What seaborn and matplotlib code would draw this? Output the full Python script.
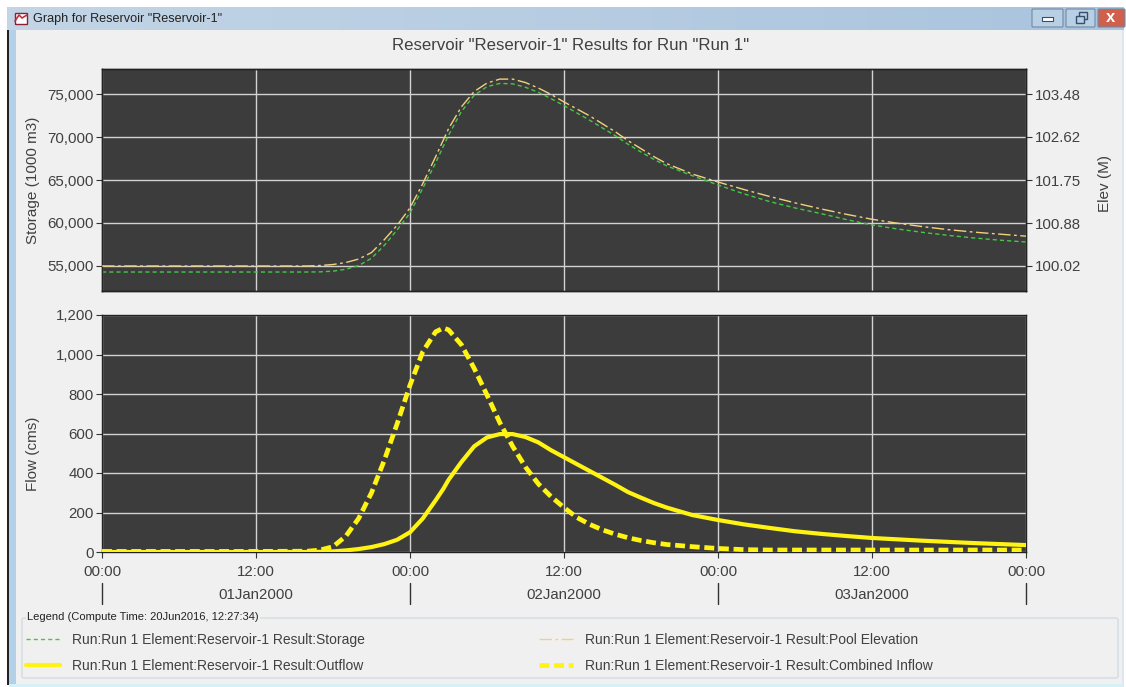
import numpy as np
import pandas as pd
import seaborn as sns
import matplotlib
matplotlib.use("Agg")
import matplotlib.pyplot as plt
import matplotlib.dates as mdates
from matplotlib.patches import Rectangle, FancyBboxPatch, Polygon
from matplotlib.ticker import FixedLocator, FuncFormatter

# values
level_hours = [0, 4, 8, 12, 16, 17, 18, 19, 20, 21, 22, 23, 24, 25, 26, 27, 28, 29, 30, 31, 32, 33, 34, 35, 36, 37,
               38, 39, 40, 41, 42, 43, 44, 46, 48, 50, 52, 54, 56, 58, 60, 62, 64, 66, 68, 70, 72]
storage = [54300, 54300, 54300, 54300, 54300, 54320, 54400, 54620, 55050, 55900, 57400, 59200, 61160, 64050, 67000,
           70200, 72950, 74850, 75850, 76230, 76180, 75780, 75200, 74450, 73650, 72800, 71950, 71050, 70150, 69150,
           68250, 67400, 66650, 65500, 64420, 63400, 62500, 61750, 61100, 60400, 59770, 59300, 58900, 58550, 58250,
           58000, 57790]
pool_elev = [100.02, 100.02, 100.02, 100.02, 100.02, 100.03, 100.05, 100.09, 100.16, 100.29, 100.55, 100.84, 101.19,
             101.68, 102.22, 102.78, 103.22, 103.53, 103.70, 103.78, 103.78, 103.71, 103.60, 103.47, 103.32, 103.18,
             103.04, 102.88, 102.72, 102.54, 102.38, 102.22, 102.08, 101.87, 101.71, 101.56, 101.42, 101.29, 101.17,
             101.06, 100.96, 100.88, 100.81, 100.75, 100.70, 100.66, 100.62]

flow_hours = [0, 4, 8, 12, 16, 17, 18, 19, 20, 21, 22, 23, 24, 25, 26, 26.6, 27, 28, 29, 30, 31, 32, 33, 34, 35, 36,
              37, 38, 39, 40, 41, 42, 43, 44, 46, 48, 50, 52, 54, 56, 58, 60, 62, 64, 66, 68, 70, 72]
inflow = [3, 3, 3, 3, 4, 10, 27, 80, 170, 300, 465, 650, 845, 1015, 1115, 1134, 1125, 1050, 930, 795, 655, 535, 430,
          345, 280, 225, 175, 140, 112, 90, 72, 58, 47, 38, 27, 18, 12, 10, 10, 10, 10, 10, 10, 10, 10, 10, 10, 10]
outflow = [0, 0, 0, 0, 0, 1, 3, 8, 15, 25, 40, 62, 100, 170, 262, 320, 365, 455, 535, 580, 597, 597, 582, 555, 515,
           480, 445, 410, 375, 340, 303, 275, 248, 225, 187, 162, 140, 122, 105, 92, 81, 71, 64, 57, 51, 45, 40, 35]

storage_ticks = [55000, 60000, 65000, 70000, 75000]
elev_ticks = [100.02, 100.88, 101.75, 102.62, 103.48]
flow_ticks = [0, 200, 400, 600, 800, 1000, 1200]
day_labels = ["01Jan2000", "02Jan2000", "03Jan2000"]

legend_storage = "Run:Run 1 Element:Reservoir-1 Result:Storage"
legend_pool = "Run:Run 1 Element:Reservoir-1 Result:Pool Elevation"
legend_outflow = "Run:Run 1 Element:Reservoir-1 Result:Outflow"
legend_inflow = "Run:Run 1 Element:Reservoir-1 Result:Combined Inflow"

start = pd.Timestamp("2000-01-01")


def to_dates(hours):
    return start + pd.to_timedelta(hours, unit="h")


sns.set_theme(style="dark")
plt.rcParams["font.family"] = ["Liberation Sans", "DejaVu Sans"]

W, H = 1126, 687
BG = "#f0f0f0"
PANEL = "#3c3c3c"
GRID = "#d2d2d2"
TEXT = "#404040"
YELLOW = "#fff314"

fig = plt.figure(figsize=(W / 100, H / 100), dpi=100, facecolor="white")

# window chrome, in pixel coordinates
chrome = fig.add_axes([0, 0, 1, 1], zorder=-1)
chrome.set_xlim(0, W)
chrome.set_ylim(H, 0)
chrome.axis("off")
chrome.add_patch(Rectangle((7, 30), 1117, 655, color=BG, lw=0))
chrome.add_patch(Rectangle((7, 30), 2, 655, color="#222222", lw=0))
chrome.add_patch(Rectangle((9, 30), 7, 655, color="#b4cfe8", lw=0))
chrome.add_patch(Rectangle((9, 684), 1115, 3, color="#d5f1f7", lw=0))
chrome.add_patch(Rectangle((1122, 30), 2, 655, color="#dbe8f2", lw=0))
bar = np.linspace(0, 1, 256).reshape(1, -1)
bar_cmap = matplotlib.colors.LinearSegmentedColormap.from_list("bar", ["#c3d5e6", "#a9c4de"])
chrome.imshow(bar, extent=(7, 1124, 30, 7), cmap=bar_cmap, aspect="auto", zorder=1)
chrome.set_xlim(0, W)
chrome.set_ylim(H, 0)
chrome.add_patch(Polygon([(15, 13), (27, 13), (27, 24), (15, 24)], closed=True, fc="white", ec="#8a2030", lw=1, zorder=2))
chrome.plot([15, 19, 22, 27], [21, 15, 18, 15], color="#c03040", lw=1.2, zorder=3)
chrome.text(33, 19, 'Graph for Reservoir "Reservoir-1"', fontsize=9.1, color="#222222", va="center", zorder=3)
for x0, x1, col in [(1032, 1063, "#b9cfe4"), (1066, 1095, "#b9cfe4"), (1098, 1125, "#d0604c")]:
    chrome.add_patch(FancyBboxPatch((x0 + 1, 10), x1 - x0 - 2, 16, boxstyle="round,pad=1", fc=col, ec="#6f8ba6", lw=0.8, zorder=2))
chrome.add_patch(Rectangle((1042, 17), 11, 4, fc="white", ec="#34506c", lw=0.8, zorder=3))
chrome.add_patch(Rectangle((1079, 12), 8, 7, fc="none", ec="#34506c", lw=1, zorder=3))
chrome.add_patch(Rectangle((1076, 16), 8, 7, fc="#b9cfe4", ec="#34506c", lw=1, zorder=3))
chrome.text(1111, 18, "x", fontsize=12, weight="bold", color="white", ha="center", va="center", zorder=3)
chrome.text(571, 46, 'Reservoir "Reservoir-1" Results for Run "Run 1"', fontsize=12.1, color=TEXT, ha="center", va="center")


def panel_axes(left, top, right, bottom):
    return fig.add_axes([left / W, 1 - bottom / H, (right - left) / W, (bottom - top) / H])


ax_top = panel_axes(102, 69, 1026, 291)
ax_flow = panel_axes(102, 315, 1026, 552)
x_min, x_max = start, start + pd.Timedelta(hours=72)

# top panel
level_df = pd.DataFrame({"time": to_dates(level_hours), "storage": storage, "pool": pool_elev})
sns.lineplot(data=level_df, x="time", y="storage", ax=ax_top, color="#46c846", linewidth=1.0,
             linestyle=(0, (3, 2.2)), zorder=4)
ax_elev = ax_top.twinx()
sns.lineplot(data=level_df, x="time", y="pool", ax=ax_elev, color="#efd27c", linewidth=1.0,
             linestyle=(0, (9, 2.5, 2, 2.5)), zorder=4)
ax_top.set_ylim(52093, 77907)
ax_elev.set_ylim(99.517, 103.983)

# bottom panel
flow_df = pd.DataFrame({"time": to_dates(flow_hours), "inflow": inflow, "outflow": outflow})
sns.lineplot(data=flow_df, x="time", y="outflow", ax=ax_flow, color=YELLOW, linewidth=3.0, zorder=4)
sns.lineplot(data=flow_df, x="time", y="inflow", ax=ax_flow, color=YELLOW, linewidth=3.4,
             linestyle=(0, (2.1, 1.0)), zorder=5)
ax_flow.set_ylim(0, 1200)

for ax in (ax_top, ax_flow, ax_elev):
    ax.set_xlim(x_min, x_max)
    ax.xaxis.set_major_locator(mdates.HourLocator(byhour=[0, 12]))
    ax.xaxis.set_major_formatter(mdates.DateFormatter("%H:%M"))
    ax.set_xlabel("")
    for s in ax.spines.values():
        s.set_color("#222222")
        s.set_linewidth(1.0)
        s.set_visible(True)

for ax in (ax_top, ax_flow):
    ax.set_facecolor(PANEL)
    ax.grid(True, color=GRID, linewidth=1.0)
    ax.set_axisbelow(True)
    ax.yaxis.set_major_formatter(FuncFormatter(lambda v, _: f"{v:,.0f}"))
    ax.tick_params(axis="y", left=True, length=4.5, width=0.8, color="#333333", labelsize=10.8, labelcolor=TEXT, pad=1.5)

ax_top.yaxis.set_major_locator(FixedLocator(storage_ticks))
ax_flow.yaxis.set_major_locator(FixedLocator(flow_ticks))
ax_elev.yaxis.set_major_locator(FixedLocator(elev_ticks))
ax_elev.yaxis.set_major_formatter(FuncFormatter(lambda v, _: f"{v:.2f}"))
ax_elev.grid(False)
ax_elev.tick_params(axis="y", right=True, length=4.5, width=0.8, color="#333333", labelsize=10.8, labelcolor=TEXT, pad=2)
ax_top.tick_params(axis="x", bottom=False, labelbottom=False)
ax_elev.tick_params(axis="x", bottom=False, labelbottom=False)
ax_flow.tick_params(axis="x", bottom=True, length=4.5, width=0.8, color="#333333", labelsize=10.8, labelcolor=TEXT, pad=5)

ax_top.set_ylabel("Storage (1000 m3)", fontsize=11, color=TEXT)
ax_flow.set_ylabel("Flow (cms)", fontsize=11, color=TEXT)
ax_top.yaxis.set_label_coords(-0.067, 0.5)
ax_flow.yaxis.set_label_coords(-0.067, 0.414)
ax_elev.set_ylabel("Elev (M)", fontsize=11, color=TEXT)
ax_elev.yaxis.set_label_coords(1.078, 0.482)

# day row under the time axis
trans = ax_flow.get_xaxis_transform()
for i, day in enumerate(day_labels):
    mid = start + pd.Timedelta(hours=12 + 24 * i)
    ax_flow.text(mdates.date2num(mid), -0.18, day, transform=trans, fontsize=10.8, color=TEXT, ha="center", va="center")
for i in range(4):
    edge = mdates.date2num(start + pd.Timedelta(hours=24 * i))
    ax_flow.plot([edge, edge], [-0.131, -0.219], transform=trans, color="#333333", lw=1.0, clip_on=False)

# legend box
chrome.add_patch(FancyBboxPatch((24, 620), 1092, 56, boxstyle="round,pad=2", fc=BG, ec="#d3dde3", lw=1))
chrome.text(27, 617, "Legend (Compute Time: 20Jun2016, 12:27:34)", fontsize=8.0, color="#222222", va="center",
            bbox=dict(fc=BG, ec="none", pad=1))
handles = [ax_top.lines[0], ax_flow.lines[0], ax_elev.lines[0], ax_flow.lines[1]]
labels = [legend_storage, legend_outflow, legend_pool, legend_inflow]
leg = fig.legend(handles, labels, ncol=2, loc="upper left", bbox_to_anchor=(18 / W, 1 - 625 / H), frameon=False,
                 fontsize=10, labelcolor=TEXT, handlelength=2.45, handletextpad=0.86, columnspacing=12.5,
                 labelspacing=0.83, borderpad=0.1)

fig.savefig("out.png", dpi=100, facecolor=fig.get_facecolor())
